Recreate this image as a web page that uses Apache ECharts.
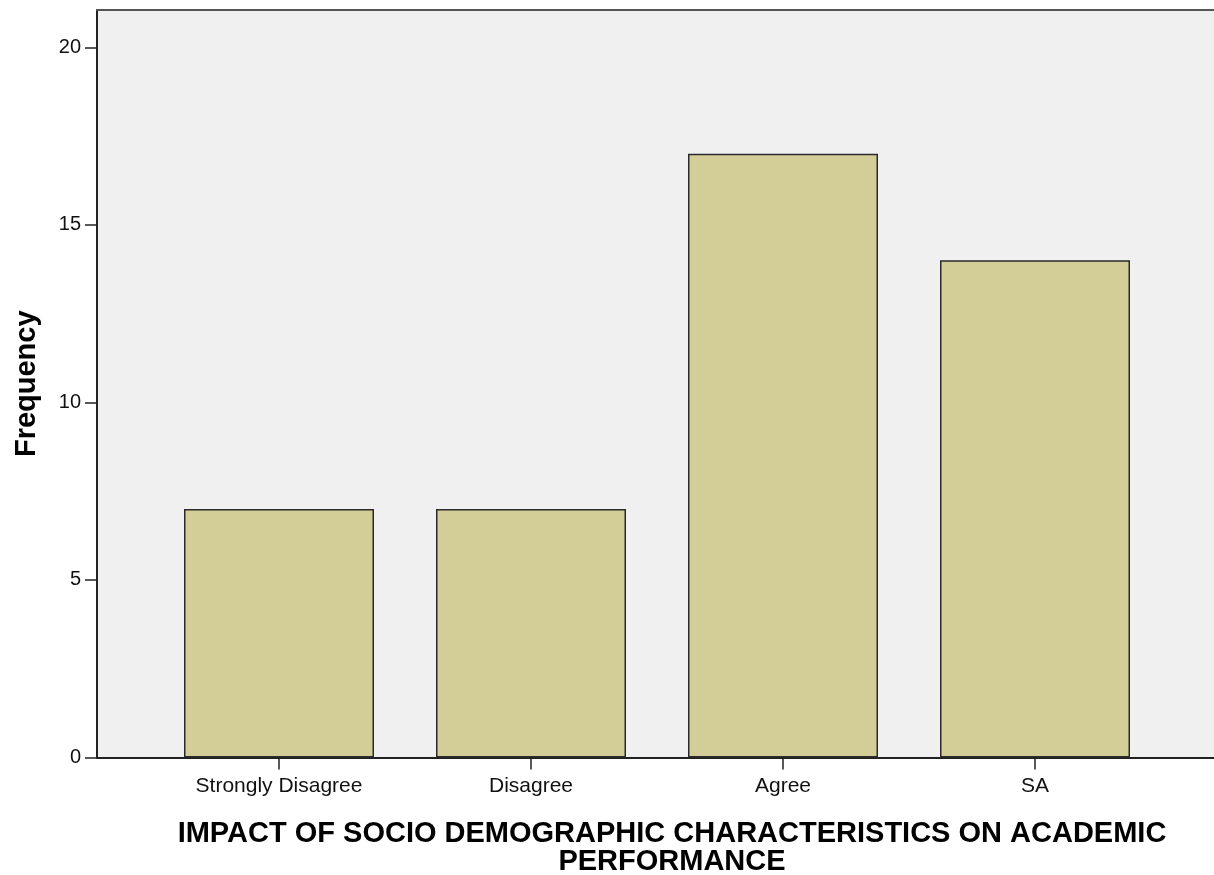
<!DOCTYPE html>
<html><head><meta charset="utf-8">
<script src="https://cdn.jsdelivr.net/npm/echarts@6/dist/echarts.min.js"></script>
<style>html,body{margin:0;padding:0;background:#fff}#c{width:1214px;height:875px}</style>
</head><body><div id="c"></div>
<script>
const categories = ['Strongly Disagree', 'Disagree', 'Agree', 'SA'];
const frequencies = [7, 7, 17, 14];
const yTickValues = [0, 5, 10, 15, 20];
const xTitle = 'IMPACT OF SOCIO DEMOGRAPHIC CHARACTERISTICS ON ACADEMIC\nPERFORMANCE';
const yTitle = 'Frequency';

const chart = echarts.init(document.getElementById('c'), null, {renderer: 'canvas'});
const font = '"Liberation Sans", Arial, sans-serif';
const TOP = 10, BOTTOM = 117.5, YMAX = 21.05;
const option = {
  animation: false,
  grid: [
    {left: 97, right: 0, top: TOP, bottom: BOTTOM, show: true, backgroundColor: '#f0f0f0', borderWidth: 0},
    {left: 153, right: 53, top: TOP, bottom: BOTTOM}
  ],
  title: {
    text: xTitle, left: 667, top: 815, textAlign: 'center',
    textStyle: {fontFamily: font, fontSize: 29, fontWeight: 'bold', color: '#000', lineHeight: 28}
  },
  xAxis: [
    {gridIndex: 0, type: 'value', min: 0, max: 1, position: 'bottom',
     axisLine: {show: true, onZero: false, lineStyle: {color: '#222', width: 2}},
     axisTick: {show: false}, axisLabel: {show: false}, splitLine: {show: false}},
    {gridIndex: 0, type: 'value', min: 0, max: 1, position: 'top',
     axisLine: {show: true, onZero: false, lineStyle: {color: '#555', width: 2}},
     axisTick: {show: false}, axisLabel: {show: false}, splitLine: {show: false}},
    {gridIndex: 1, type: 'category', data: categories, position: 'bottom',
     axisLine: {show: false, onZero: false},
     axisTick: {show: true, alignWithLabel: true, length: 12, lineStyle: {color: '#222', width: 1.5}},
     axisLabel: {fontFamily: font, fontSize: 21, color: '#111', margin: 18},
     splitLine: {show: false}}
  ],
  yAxis: [
    {gridIndex: 0, type: 'value', min: 0, max: YMAX,
     axisLine: {show: true, lineStyle: {color: '#222', width: 2}},
     axisTick: {show: true, length: 12, customValues: yTickValues, lineStyle: {color: '#222', width: 1.5}},
     axisLabel: {customValues: yTickValues, fontFamily: font, fontSize: 20, color: '#111', margin: 16},
     splitLine: {show: false},
     name: yTitle, nameLocation: 'middle', nameGap: 56,
     nameTextStyle: {fontFamily: font, fontSize: 29, fontWeight: 'bold', color: '#000'}},
    {gridIndex: 1, type: 'value', min: 0, max: YMAX, show: false, splitLine: {show: false}}
  ],
  series: [{
    type: 'bar', xAxisIndex: 2, yAxisIndex: 1, data: frequencies, barWidth: 190,
    itemStyle: {color: '#d3ce97', borderColor: '#2a2a2a', borderWidth: 1.5}
  }]
};
chart.setOption(option);
</script></body></html>
